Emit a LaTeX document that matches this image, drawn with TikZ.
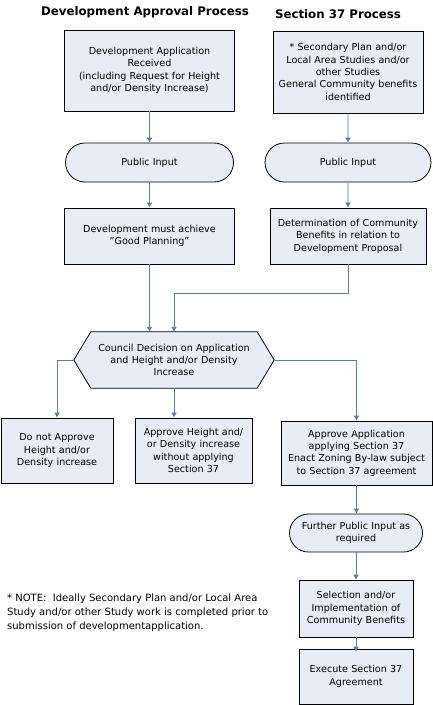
\documentclass[tikz,border=0pt]{standalone}
\usepackage{fontspec}
\setmainfont{DejaVu Sans}
\usetikzlibrary{shapes.misc,arrows.meta,calc}
\definecolor{boxfill}{HTML}{E8ECF6}
\definecolor{arrcol}{HTML}{5A7DA8}
\tikzset{
  box/.style={draw=black,fill=boxfill,line width=0.8pt,inner sep=1pt,align=center,
    font=\fontsize{9.6}{12.4}\selectfont},
  term/.style={box,rounded rectangle},
  arr/.style={draw=arrcol,line width=0.9pt,-{Latex[length=5pt,width=6pt]}},
  ttl/.style={font=\bfseries\fontsize{11.8}{13}\selectfont},
  note/.style={align=left,anchor=west,font=\fontsize{10}{14}\selectfont,inner sep=0pt}
}
\begin{document}
\begin{tikzpicture}[x=1pt,y=-1pt]
\useasboundingbox[fill=white] (0,0) rectangle (433,705);
\node[ttl] (t1) at (145,12) {Development Approval Process};
\node[ttl] (t2) at (338,14) {Section 37 Process};

\node[box,minimum width=170,minimum height=81,text width=164] (b1) at (149.5,70.5)
  {Development Application\\Received\\(including Request for Height\\and/or Density Increase)};
\node[box,minimum width=150,minimum height=82,text width=148] (b2) at (348,72)
  {* Secondary Plan and/or\\Local Area Studies and/or\\other Studies\\General Community benefits\\identified};

\node[term,minimum width=170,minimum height=39] (p1) at (149.5,162.5) {Public Input};
\node[term,minimum width=168,minimum height=39] (p2) at (348,162.5) {Public Input};

\node[box,minimum width=170,minimum height=56,text width=164] (g1) at (149.5,236)
  {Development must achieve\\\char34 Good Planning\char34};
\node[box,minimum width=156,minimum height=56,text width=152] (d2) at (348,236)
  {Determination of Community\\Benefits in relation to\\Development Proposal};

\node[minimum width=166,minimum height=56,inner sep=0pt] (cd) at (174,360) {};
\coordinate (tipL) at ($(cd.west)+(-17,0)$);
\coordinate (tipR) at ($(cd.east)+(17,0)$);
\filldraw[fill=boxfill,draw=black,line width=0.8pt] (cd.north west) -- (cd.north east) -- (tipR) -- (cd.south east) -- (cd.south west) -- (tipL) -- cycle;
\node[box,draw=none,fill=none,text width=170] (cdt) at (cd.center)
  {Council Decision on Application\\and Height and/or Density\\Increase};

\node[box,minimum width=112,minimum height=65,text width=110] (n1) at (57,450.5)
  {Do not Approve\\Height and/or\\Density increase};
\node[box,minimum width=117,minimum height=65,text width=115] (n2) at (193.5,450.5)
  {Approve Height and/\\or Density increase\\without applying\\Section 37};
\node[box,minimum width=151,minimum height=64,text width=149] (n3) at (356.5,453)
  {Approve Application\\applying Section 37\\Enact Zoning By-law subject\\to Section 37 agreement};

\node[term,minimum width=135,minimum height=38,text width=118] (f1) at (356,533)
  {Further Public Input as\\required};
\node[box,minimum width=114,minimum height=57,text width=112] (s1) at (356,608.5)
  {Selection and/or\\Implementation of\\Community Benefits};
\node[box,minimum width=114,minimum height=55,text width=112] (e1) at (356,676.5)
  {Execute Section 37\\Agreement};

\node[note] (nt) at (7,613)
  {* NOTE:\ \ Ideally Secondary Plan and/or Local Area\\Study and/or other Study work is completed prior to\\submission of developmentapplication.};

\draw[arr] (b1) -- (p1);
\draw[arr] (b2) -- (p2);
\draw[arr] (p1) -- (g1);
\draw[arr] (p2) -- (d2);
\draw[arr] (g1.south) -- (g1.south |- cd.north);
\coordinate (j) at ($(d2.south)+(0,29)$);
\draw[arr] (d2.south) -- (j) -- (j -| cd.north) -- (cd.north);
\draw[arr] (tipL) -| (n1.north);
\draw[arr] (cd.south) -- (cd.south |- n2.north);
\draw[arr] (tipR) -| (n3.north);
\draw[arr] (n3.south) -- (n3.south |- f1.north);
\draw[arr] (f1.south -| s1.north) -- (s1.north);
\draw[arr] (s1.south) -- ($(e1.north)+(0,3)$);
\end{tikzpicture}
\end{document}
